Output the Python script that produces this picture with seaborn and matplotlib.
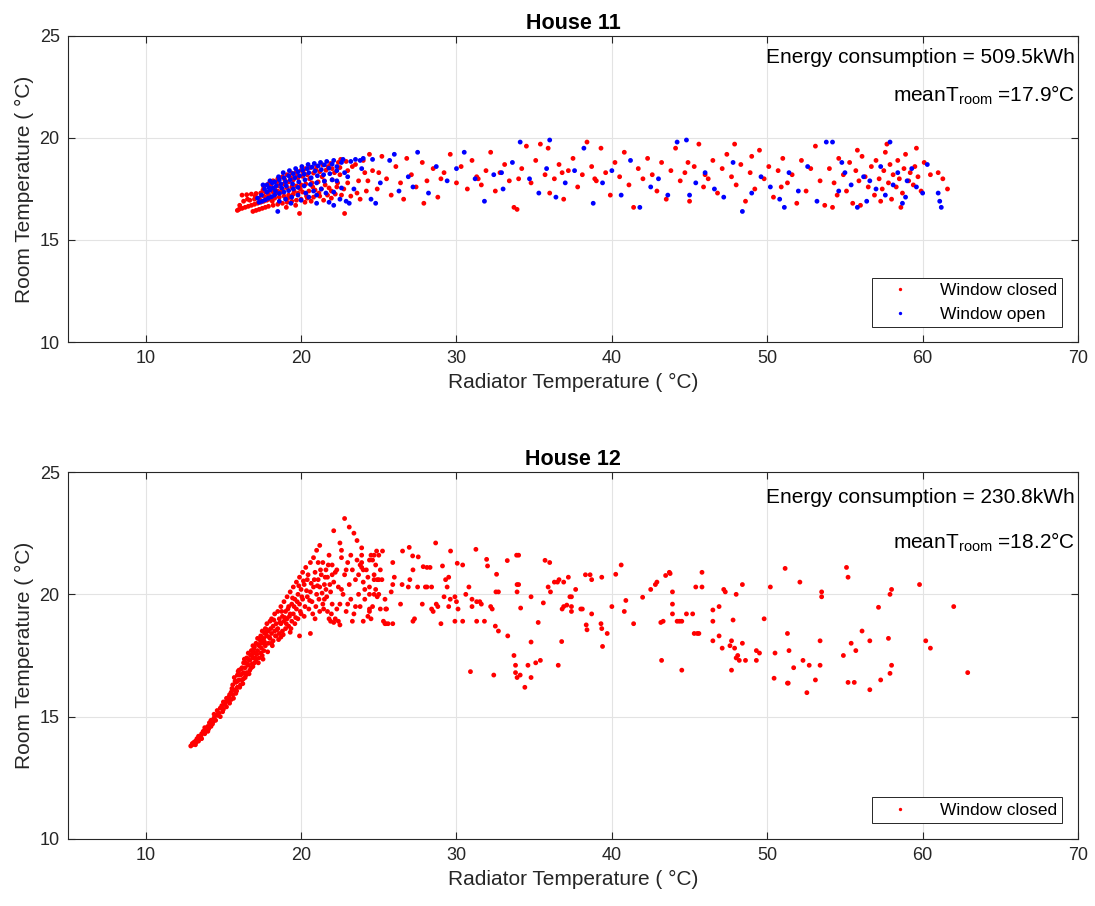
import numpy as np
import pandas as pd
import matplotlib
matplotlib.use("Agg")
import matplotlib.pyplot as plt
import seaborn as sns

# ---------------- data ----------------
titles = ["House 11", "House 12"]
energy = ["509.5kWh", "230.8kWh"]
mean_troom = ["17.9", "18.2"]
x_ticks = [10, 20, 30, 40, 50, 60, 70]
y_ticks = [10, 15, 20, 25]

# House 11, window closed: (radiator T, room T)
h11_closed = [
    (15.9,16.45),(16.0,16.5),(16.2,16.55),(16.4,16.6),(16.6,16.65),(16.8,16.7),(17.0,16.75),(17.2,16.8),
    (17.4,16.85),(17.6,16.9),(17.8,16.95),(18.0,17.0),(18.3,17.05),(18.6,17.1),(18.9,17.15),(19.2,17.2),
    (19.5,17.25),(19.8,17.3),(20.1,17.35),(20.5,17.4),(20.9,17.45),(21.3,17.5),(21.8,17.55),(22.3,17.6),
    (16.9,16.4),(17.1,16.45),(17.3,16.5),(17.5,16.55),(17.7,16.6),(17.9,16.65),(18.2,16.7),(18.5,16.75),
    (18.8,16.8),(19.1,16.85),(19.4,16.9),(19.7,16.95),(20.0,17.0),(20.4,17.05),(20.8,17.1),(21.2,17.15),
    (21.7,17.2),(22.2,17.25),
    (16.2,17.2),(16.5,17.22),(16.8,17.25),(17.1,17.28),(17.4,17.3),(17.7,17.35),(18.0,17.45),(18.3,17.55),
    (18.6,17.65),(18.9,17.75),(19.2,17.85),(19.5,17.95),(19.8,18.05),(20.1,18.12),(20.4,18.2),(20.8,18.28),
    (21.2,18.35),(21.6,18.42),(22.0,18.5),(22.5,18.55),
    (17.6,17.6),(17.9,17.75),(18.2,17.9),(18.5,18.0),(18.8,18.1),(19.1,18.2),(19.4,18.28),(19.7,18.35),
    (20.0,18.42),(20.3,18.5),(20.6,18.55),(21.0,18.62),(21.4,18.68),(21.9,18.75),(22.4,18.8),(22.9,18.85),
    (17.0,17.0),(17.3,17.05),(17.6,17.15),(17.9,17.25),(18.2,17.35),(18.5,17.4),(18.8,17.5),(19.1,17.55),
    (19.4,17.6),(19.7,17.65),(20.0,17.7),(20.3,17.75),(20.7,17.8),(21.1,17.85),(21.5,17.9),(22.0,17.95),
    (19.9,16.3),(22.8,16.3),
    (16.3,16.9),(16.7,16.95),(17.05,17.15),(17.35,16.95),(17.55,17.45),(17.85,17.1),(18.05,17.7),(18.35,17.25),
    (18.45,17.85),(18.75,17.35),(18.95,17.95),(19.15,17.05),(19.35,18.05),(19.55,17.4),(19.75,18.15),(19.95,17.5),
    (20.15,18.3),(20.35,17.15),(20.55,18.0),(20.75,17.6),(20.95,18.45),(21.15,17.3),(21.35,18.1),(21.55,17.7),
    (21.75,18.6),(21.95,17.4),(22.15,18.3),(22.35,17.8),(22.55,18.95),(22.75,17.5),(23.0,18.4),(23.2,17.15),
    (23.5,18.7),(23.7,17.9),(24.1,18.3),(24.2,17.4),(16.05,16.7),(16.55,17.0),(18.15,16.9),(19.05,16.6),
    (19.65,16.7),(20.25,16.85),(20.65,16.9),(21.45,16.95),(21.95,17.05),(22.6,17.2),
    (22.5,18.2),(23.0,17.8),(23.3,18.6),(23.6,17.3),(24.0,18.9),(24.3,17.9),(24.6,18.4),(24.9,17.5),
    (25.2,19.1),(25.5,18.0),(25.8,17.2),(26.1,18.6),(26.4,17.8),(26.8,19.0),(27.1,18.2),(27.4,17.6),
    (27.8,18.8),(28.1,17.9),(28.5,18.5),(28.8,17.1),(29.2,18.3),(29.6,19.2),(30.0,17.8),(23.8,17.0),
    (25.0,18.3),(26.6,17.0),(27.9,16.8),(24.4,19.2),(29.0,18.0),
    (30.3,18.6),(30.7,17.5),(31.0,18.9),(31.3,18.1),(31.6,17.7),(31.9,18.4),(32.2,19.3),(32.5,17.4),
    (32.8,18.3),(33.1,18.7),(33.4,17.9),(33.7,16.6),(33.9,16.5),(34.2,18.5),(34.5,19.6),(34.8,17.8),
    (35.1,18.9),(35.4,19.7),(35.7,18.2),(36.0,17.3),(36.3,18.0),(36.6,18.7),(36.9,17.0),(37.2,18.4),
    (37.5,19.0),(37.8,17.6),(38.1,18.2),(38.4,19.8),(38.7,18.6),(39.0,17.9),(39.3,19.5),(39.6,18.3),
    (39.9,17.2),(40.2,18.8),(40.5,18.1),(40.8,19.3),(41.1,17.7),(41.4,16.6),(41.7,18.5),(42.0,18.0),
    (34.0,18.0),(36.8,18.3),(38.9,18.0),(31.4,18.0),(35.9,19.5),
    (42.3,19.0),(42.6,18.2),(42.9,17.4),(43.2,18.8),(43.5,17.0),(43.8,18.4),(44.1,19.5),(44.4,17.9),
    (44.7,18.3),(45.0,16.9),(45.3,18.6),(45.6,19.7),(45.9,17.6),(46.2,18.0),(46.5,18.9),(46.8,17.3),
    (47.1,18.5),(47.4,19.2),(47.7,18.1),(48.0,17.7),(48.3,18.7),(48.6,16.9),(48.9,18.3),(49.2,17.5),
    (49.5,19.4),(49.8,18.0),(50.1,18.6),(50.4,17.1),(50.7,18.4),(51.0,19.0),(51.3,17.8),(51.6,18.2),
    (51.9,16.8),(52.2,18.9),(52.5,17.4),(52.8,18.5),(53.1,19.6),(53.4,17.9),(53.7,16.7),(44.9,18.8),
    (46.0,18.2),(49.0,19.1),(50.9,17.6),(47.9,19.7),
    (54.0,18.5),(54.3,17.8),(54.6,19.0),(54.9,18.2),(55.1,17.4),(55.3,18.8),(55.5,16.8),(55.7,18.4),
    (55.9,17.9),(56.1,19.1),(56.3,18.1),(56.5,17.6),(56.7,18.6),(56.9,17.2),(57.0,18.9),(57.2,18.0),
    (57.4,17.5),(57.5,18.4),(57.6,19.3),(57.8,17.8),(57.9,18.7),(58.0,17.0),(58.1,18.2),(58.3,17.6),
    (58.4,18.9),(58.5,18.0),(58.7,17.3),(58.8,18.5),(58.9,19.2),(59.1,17.9),(59.2,18.3),(59.4,17.7),
    (59.5,18.6),(59.7,18.1),(59.9,17.4),(60.1,18.8),(56.0,16.7),(57.3,16.9),(58.6,16.6),(54.5,17.2),
    (55.8,19.4),(57.7,19.7),(61.0,18.3),(61.3,18.0),(61.6,17.5),(60.5,18.2),(54.2,16.6),(59.6,19.5),
]

# House 11, window open
h11_open = [
    (17.3,16.85),(17.5,16.9),(17.7,16.97),(17.9,17.05),(18.1,17.12),(18.3,17.2),(18.6,17.28),(18.9,17.35),
    (19.2,17.42),(19.5,17.5),(19.8,17.58),(20.2,17.65),(20.6,17.72),(21.0,17.8),(21.5,17.88),(22.0,17.95),
    (17.8,17.35),(18.0,17.45),(18.2,17.55),(18.4,17.65),(18.7,17.75),(19.0,17.85),(19.3,17.95),(19.6,18.05),
    (19.9,18.15),(20.2,18.22),(20.5,18.3),(20.9,18.38),(21.3,18.45),(21.8,18.52),(22.3,18.6),
    (18.3,17.85),(18.6,17.95),(18.9,18.05),(19.2,18.15),(19.5,18.25),(19.8,18.35),(20.1,18.42),(20.4,18.5),
    (20.7,18.57),(21.1,18.63),(21.5,18.68),(22.0,18.72),(22.6,18.8),(23.2,18.85),(23.8,18.9),
    (18.6,16.9),(19.0,17.0),(19.4,17.1),(19.8,17.2),(20.3,17.3),(20.8,17.4),(21.3,17.5),
    (17.8,17.7),(18.5,16.4),(21.0,16.8),(21.8,16.85),(22.5,17.0),
    (17.45,17.2),(17.65,17.5),(17.95,17.55),(18.15,17.8),(18.35,17.4),(18.55,18.1),(18.75,17.55),(18.85,18.3),
    (19.05,17.65),(19.25,18.4),(19.45,17.75),(19.65,18.5),(19.85,17.85),(20.05,18.6),(20.25,17.95),(20.45,18.7),
    (20.65,18.05),(20.85,18.75),(21.05,18.15),(21.25,18.8),(21.45,18.2),(21.65,18.85),(21.85,18.25),(22.1,18.9),
    (22.3,18.4),(22.7,18.95),(23.0,18.1),(23.5,18.95),(24.0,19.0),(24.6,18.95),(20.0,16.95),(20.5,17.1),
    (21.0,17.2),(21.6,17.3),(22.1,17.35),(22.6,17.55),(19.35,16.8),(22.1,16.7),(22.9,16.9),(17.2,17.05),
    (17.55,17.7),(18.0,17.9),
    (22.3,17.9),(22.8,18.3),(23.4,17.5),(23.9,18.5),(24.5,17.0),(25.1,17.8),(25.7,18.9),(26.3,17.4),
    (26.9,18.1),(27.5,19.3),(28.2,17.3),(28.7,18.6),(29.4,17.9),(30.0,18.5),(23.1,16.8),(24.8,16.8),
    (26.0,19.2),(27.2,17.6),
    (30.5,19.3),(31.2,18.0),(31.8,16.9),(32.4,18.2),(33.0,17.5),(33.6,18.8),(34.1,19.8),(34.7,18.0),
    (35.3,17.3),(35.8,18.5),(36.4,17.1),(37.0,17.8),(37.6,18.4),(38.2,19.5),(38.8,16.8),(39.4,17.8),
    (40.0,18.4),(40.6,17.2),(41.2,18.9),(41.8,16.6),(36.0,19.9),(32.9,18.3),
    (42.5,17.6),(43.0,18.0),(43.6,17.2),(44.2,19.8),(44.8,19.9),(45.4,17.8),(46.0,18.3),(46.6,17.5),
    (47.2,17.1),(47.8,18.8),(48.4,16.4),(49.0,17.3),(49.6,18.1),(50.2,17.6),(50.8,17.0),(51.4,18.3),
    (52.0,17.4),(52.6,18.6),(53.2,16.9),(53.8,19.8),(45.0,17.2),(51.1,16.6),
    (54.2,19.8),(54.6,17.4),(55.0,18.3),(55.4,17.7),(55.8,16.6),(56.2,18.1),(56.6,17.9),(57.0,17.5),
    (57.3,18.6),(57.6,17.2),(57.9,19.8),(58.1,17.7),(58.4,18.3),(58.7,16.8),(59.0,17.9),(59.3,18.5),
    (59.6,17.6),(60.0,17.3),(60.3,18.7),(61.0,17.3),(61.1,16.9),(61.2,16.6),(58.9,17.1),(56.4,16.9),
    (54.8,18.8),
]

# House 12, window closed
h12_closed = [
    (12.9,13.8),(13.0,13.85),(13.0,13.9),(13.1,13.95),(13.2,13.85),(13.2,14.0),(13.3,14.1),(13.4,14.0),
    (13.4,14.2),(13.5,14.15),(13.6,14.3),(13.6,14.1),(13.7,14.4),(13.8,14.3),(13.8,14.55),(13.9,14.45),
    (14.0,14.6),(14.0,14.4),(14.1,14.75),(14.2,14.6),(14.2,14.85),(14.3,14.7),(14.4,14.95),(14.4,15.1),
    (14.5,14.85),(14.6,15.05),(14.6,15.25),(14.7,15.15),(14.8,15.35),(14.8,15.0),(14.9,15.45),(15.0,15.3),
    (15.0,15.6),(15.1,15.5),(15.2,15.75),(15.2,15.4),(15.3,15.65),(15.4,15.9),(15.4,15.55),
    (14.05,14.5),(14.35,14.8),(14.65,15.1),(14.95,15.2),(15.15,15.6),(15.35,15.8),(13.55,14.2),(13.85,14.4),
    (13.25,13.95),
    (15.5,16.0),(15.5,15.7),(15.6,16.3),(15.6,15.9),(15.7,16.1),(15.7,16.6),(15.8,15.95),(15.8,16.4),
    (15.9,16.7),(15.9,16.2),(16.0,16.5),(16.0,16.9),(16.1,16.3),(16.1,16.7),(16.2,17.0),(16.2,16.5),
    (16.3,16.8),(16.3,17.2),(16.4,16.6),(16.4,17.0),(16.5,17.4),(16.5,16.8),(16.6,17.1),(16.6,17.6),
    (16.7,16.9),(16.7,17.3),(16.8,17.7),(16.8,17.0),(16.9,17.4),(16.9,17.9),(17.0,17.2),(17.0,17.6),
    (17.1,18.0),(17.1,17.3),(17.2,17.7),(17.2,18.2),(17.3,17.4),(17.3,17.9),(17.4,18.3),(17.4,17.6),
    (17.5,18.0),(17.5,18.5),(17.6,17.7),(17.6,18.2),(17.7,18.6),(17.7,17.9),(17.8,18.3),(17.8,18.8),
    (17.9,18.0),(17.9,18.5),(18.0,18.9),(18.0,18.2),
    (16.2,16.75),(16.6,17.35),(17.0,17.85),(17.4,18.1),(17.8,18.55),(15.9,16.45),(16.45,17.2),
    (16.85,17.55),(17.25,17.95),(17.65,18.4),
    (15.55,16.15),(15.65,15.75),(15.75,16.45),(15.85,16.05),(15.95,16.85),(16.05,16.2),(16.15,16.95),
    (16.25,16.35),(16.35,17.35),(16.45,16.7),(16.55,17.15),(16.65,16.75),(16.75,17.5),(16.85,17.15),
    (16.95,17.75),(17.05,17.4),(17.15,17.55),(17.25,17.2),(17.35,18.15),(17.45,17.8),(17.55,17.35),
    (17.65,18.05),(17.75,18.45),(17.85,17.65),(17.95,18.25),(18.05,18.6),(18.15,17.9),(18.25,18.95),
    (18.35,18.3),(18.45,18.55),(18.55,18.15),(18.65,18.85),(18.75,19.3),(18.85,18.35),(18.95,19.05),
    (19.05,18.8),(19.15,19.4),(19.25,19.1),(19.35,18.6),(19.45,19.85),(19.55,19.5),(19.65,19.05),
    (19.75,19.7),(19.85,20.35),(19.95,19.3),(20.05,19.9),(20.15,20.55),(20.25,19.5),(20.35,20.15),
    (20.45,20.8),(20.55,19.75),(20.65,20.45),(20.75,19.2),(20.85,20.6),(20.95,19.5),(21.05,20.35),
    (21.15,19.8),(21.25,21.0),(21.35,20.05),(21.45,19.4),(21.55,20.7),(21.65,19.9),(21.75,21.2),
    (21.85,20.4),(21.95,19.2),(16.3,16.55),(16.9,17.05),(17.5,17.5),(18.1,18.0),(18.7,18.25),(19.3,18.45),
    (18.1,18.4),(18.1,19.0),(18.2,18.7),(18.2,18.1),(18.3,19.2),(18.3,18.5),(18.4,18.8),(18.4,18.3),
    (18.5,19.3),(18.5,18.6),(18.6,19.0),(18.6,18.4),(18.7,19.5),(18.7,18.8),(18.8,19.1),(18.8,18.5),
    (18.9,19.7),(18.9,18.9),(19.0,19.3),(19.0,18.6),(19.1,19.9),(19.1,19.0),(19.2,19.5),(19.2,18.7),
    (19.3,19.2),(19.3,20.1),(19.4,18.9),(19.4,19.6),(19.5,20.3),(19.5,19.2),(19.6,19.8),(19.6,18.8),
    (19.7,20.5),(19.7,19.4),(19.8,20.0),(19.8,19.0),(19.9,20.7),(19.9,19.6),(20.0,20.2),(20.0,19.2),
    (20.1,20.9),(20.1,19.8),(20.2,20.4),(20.2,19.1),(20.3,21.1),(20.4,19.9),(20.4,20.6),(20.5,19.4),
    (20.6,21.3),(20.6,20.1),(20.7,19.7),(20.8,21.5),(20.8,20.3),(20.9,19.0),(21.0,21.8),(21.0,20.0),
    (21.1,20.6),(21.2,22.0),(21.2,19.3),(19.9,18.3),(20.6,18.4),
    (21.3,20.8),(21.4,21.3),(21.5,19.8),(21.5,20.4),(21.6,21.0),(21.7,19.3),(21.7,20.7),(21.8,21.6),
    (21.9,20.1),(22.0,19.6),(22.0,21.2),(22.1,22.6),(22.1,20.5),(22.2,19.0),(22.3,21.0),(22.4,20.3),
    (22.5,22.1),(22.5,19.6),(22.6,21.5),(22.7,20.0),(22.8,23.1),(22.8,20.8),(22.9,19.3),(23.0,21.3),
    (23.1,22.75),(23.1,20.4),(23.2,19.8),(23.3,21.0),(23.4,22.5),(23.4,19.2),(23.5,20.6),(23.6,22.2),
    (23.6,21.4),(23.7,20.0),(23.8,19.5),(23.9,21.9),(23.9,21.6),(23.9,21.3),(23.9,21.1),(24.0,20.5),
    (24.1,19.8),(24.2,21.0),(24.3,19.1),(24.4,20.3),(24.5,21.6),(24.6,19.5),(24.7,20.8),(24.8,21.2),
    (24.9,19.9),(25.0,20.6),(21.9,18.9),(22.4,18.9),(23.3,18.9),(25.1,19.4),(21.2,20.3),(20.9,20.9),
    (22.6,21.8),(22.1,18.85),(22.5,18.75),(24.0,18.9),(24.4,19.4),(25.45,19.4),(25.45,18.8),(25.6,18.8),
    (25.9,18.8),
    (21.4,19.6),(21.6,20.2),(21.8,19.0),(22.2,20.9),(22.3,19.4),(22.6,20.2),(22.9,21.0),(23.0,19.6),
    (23.2,21.6),(23.5,19.5),(23.7,20.8),(23.8,21.2),(24.0,21.0),(24.1,20.2),(24.3,20.7),(24.5,19.0),
    (24.8,20.2),(25.1,21.0),(22.0,20.8),(21.1,21.3),
    (24.4,21.4),(24.6,21.4),(24.7,21.6),(25.0,21.6),(24.7,20.6),(24.9,20.6),(25.2,20.6),(24.4,20.0),
    (24.7,20.0),(25.0,20.0),(25.4,19.8),(24.4,19.3),(25.4,18.8),(25.3,18.9),(25.5,19.4),(25.8,20.1),
    (25.9,20.4),(26.0,20.7),(25.9,21.3),(26.4,19.6),(26.5,20.4),(26.9,20.3),(27.0,20.6),(27.2,21.0),
    (27.2,18.9),(27.3,19.0),(27.5,20.3),(27.8,19.6),(28.0,20.3),(28.1,20.3),(28.4,19.4),(28.5,19.3),
    (28.4,20.3),(28.7,19.6),(28.8,19.5),(29.0,18.8),(29.2,19.9),(29.3,20.6),(29.4,20.3),(29.5,20.7),
    (29.5,19.5),(29.6,19.8),(29.9,19.9),(29.9,18.9),(30.0,19.7),(30.1,19.4),(30.4,18.9),(30.6,20.0),
    (30.8,20.3),(30.9,16.84),(31.0,19.8),(31.0,19.5),(31.3,19.7),(31.3,18.9),(31.5,19.7),(31.6,19.6),
    (31.8,18.9),(32.2,19.5),(32.3,19.4),(32.4,16.7),(32.5,18.7),(32.7,18.5),(33.3,18.3),(33.7,17.5),
    (33.8,17.1),(33.8,16.8),(33.9,16.6),(34.1,16.7),(34.4,16.2),(34.6,17.1),(34.8,16.6),(35.1,17.2),
    (35.4,17.3),
    (24.86,21.77),(25.24,21.77),(26.53,21.77),(26.96,21.92),(27.18,21.57),(27.54,21.53),(28.66,22.1),
    (27.86,21.13),(28.1,21.1),(28.3,21.1),(29.1,21.16),(29.62,21.77),(30.05,21.27),(30.4,21.2),
    (31.25,21.84),(31.94,21.43),(32.0,21.16),(33.27,21.38),(33.87,21.6),(34.0,21.6),(32.58,20.82),
    (32.54,20.1),(32.7,20.1),(33.9,20.4),(34.0,20.4),(33.9,20.1),(34.13,19.44),(34.8,19.9),(34.8,18.05),
    (35.26,18.85),(35.59,19.65),(35.7,21.39),(36.0,21.3),(35.9,20.3),(36.05,20.1),(36.3,20.5),(36.5,20.5),
    (36.6,20.6),(36.9,20.5),(37.2,20.7),(37.67,20.2),(37.3,19.9),(37.4,19.9),(37.1,19.56),(36.9,19.5),
    (36.8,19.4),(37.4,19.5),(37.4,19.3),(36.77,18.07),(36.55,17.1),(38.0,19.4),(38.1,19.4),(38.3,20.8),
    (38.6,20.8),(38.7,20.6),(38.35,18.75),(38.4,18.55),(39.3,18.8),(39.35,18.6),(38.7,19.2),(39.35,20.7),
    (39.4,17.87),(40.0,19.5),(40.25,20.82),(40.6,21.2),(39.7,18.4),(40.8,19.3),(40.9,19.75),(41.4,18.8),
    (41.98,19.88),(42.5,20.2),(42.8,20.4),(42.9,20.5),(43.2,17.3),(43.46,20.77),(43.7,20.9),(43.75,20.85),
    (43.9,20.1),(43.9,19.6),(43.3,18.9),(43.15,18.85),(43.9,19.2),(44.2,18.9),(44.35,18.9),(44.5,18.9),
    (44.5,16.9),(44.8,19.2),(45.2,19.2),(45.3,18.4),(45.5,18.4),(45.6,18.4),(45.4,20.3),(45.8,20.3),
    (45.8,20.9),(46.5,19.36),(46.5,18.9),(46.5,18.1),(46.9,19.5),(46.9,18.3),(47.1,17.8),(47.2,20.2),
    (47.3,20.1),(47.6,17.9),(47.7,18.1),(47.7,16.9),(47.8,18.95),(47.9,17.8),(48.0,20.0),(48.0,17.4),
    (48.1,17.5),(48.2,17.3),(48.4,20.4),(48.4,18.0),(48.6,17.3),(49.3,17.7),(49.5,17.6),(49.3,17.3),
    (49.8,19.0),(50.44,16.57),(50.5,17.6),(51.15,21.06),(51.3,16.37),(51.35,16.37),(51.3,18.4),(51.4,17.7),
    (51.7,17.0),(52.55,15.98),(53.1,16.5),(53.4,17.1),(53.4,18.1),(53.5,20.1),(53.5,19.9),(55.2,20.7),
    (55.4,18.0),(55.7,17.7),(57.16,19.47),(57.9,16.77),
    (55.1,21.1),(57.9,20.0),(58.0,20.2),(59.8,20.4),(62.0,19.5),(60.2,18.1),(60.5,17.8),(62.9,16.8),
    (58.0,17.1),(57.8,18.2),(54.9,17.5),(55.6,16.4),(55.2,16.4),(56.6,16.1),(57.3,16.5),(56.6,18.1),
    (56.1,18.5),(52.3,17.3),(52.7,17.1),(50.2,20.3),(52.1,20.5),
]

# ---------------- style ----------------
sns.set_theme(style="ticks")
plt.rcParams["font.family"] = ["Liberation Sans", "DejaVu Sans"]
plt.rcParams["mathtext.fontset"] = "custom"
plt.rcParams["mathtext.rm"] = "Liberation Sans"
plt.rcParams["mathtext.it"] = "Liberation Sans:italic"

AXC = "#262626"
GRID = "#e3e3e3"

df11 = pd.concat([
    pd.DataFrame(h11_closed, columns=["x", "y"]).assign(state="Window closed"),
    pd.DataFrame(h11_open, columns=["x", "y"]).assign(state="Window open"),
], ignore_index=True)
df12 = pd.DataFrame(h12_closed, columns=["x", "y"]).assign(state="Window closed")

palette = {"Window closed": "#ff0000", "Window open": "#0000ff"}

fig = plt.figure(figsize=(10.95, 9.06), dpi=100)
ax1 = fig.add_axes([0.0621, 0.6225, 0.9224, 0.3378])
ax2 = fig.add_axes([0.0621, 0.0740, 0.9224, 0.4050])

for ax, df, title, en, mt, legpos in [
    (ax1, df11, titles[0], energy[0], mean_troom[0], (0.984, 0.049)),
    (ax2, df12, titles[1], energy[1], mean_troom[1], (0.984, 0.044)),
]:
    sns.scatterplot(data=df, x="x", y="y", hue="state", palette=palette,
                    s=12, linewidth=0, ax=ax, zorder=3)
    ax.set_xlim(5, 70)
    ax.set_ylim(10, 25)
    ax.set_xticks(x_ticks)
    ax.set_yticks(y_ticks)
    ax.grid(True, color=GRID, linewidth=0.8, zorder=0)
    ax.set_axisbelow(True)
    for sp in ax.spines.values():
        sp.set_visible(True)
        sp.set_color(AXC)
        sp.set_linewidth(0.8)
    ax.tick_params(direction="in", top=True, right=True, length=5, width=0.8,
                   colors=AXC, labelsize=13, labelcolor=AXC, pad=6)
    ax.set_xlabel("Radiator Temperature ( °C)", fontsize=15, color=AXC, labelpad=4)
    ax.set_ylabel("Room Temperature ( °C)", fontsize=15, color=AXC, labelpad=4)
    ax.set_title(title, fontsize=15.5, fontweight="bold", color="black", pad=5)
    ax.text(0.997, 0.931, "Energy consumption = " + en, transform=ax.transAxes,
            ha="right", va="center", fontsize=15, color="black")
    ax.text(0.997, 0.807, r"meanT$_{\rm room}$ =" + mt + "°C", transform=ax.transAxes,
            ha="right", va="center", fontsize=15, color="black")
    leg = ax.legend(loc="lower right", bbox_to_anchor=legpos, borderaxespad=0,
                    frameon=True, fancybox=False, edgecolor=AXC, framealpha=1,
                    fontsize=12.5, handlelength=2.6, handletextpad=1.0,
                    markerscale=0.7, borderpad=0.3, labelspacing=0.5)
    leg.get_frame().set_linewidth(0.7)
    for t in leg.get_texts():
        t.set_color("black")

fig.savefig("out.png", dpi=100)
